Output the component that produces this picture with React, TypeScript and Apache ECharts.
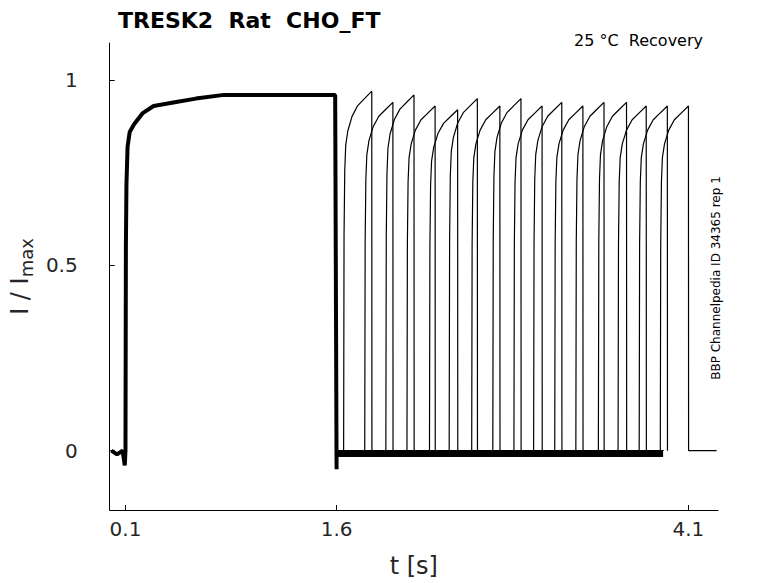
import { useEffect, useRef } from "react";
import * as echarts from "echarts";

// first (conditioning) pulse, shared by all sweeps
const firstPulseT = [0, 0.04, 0.08, 0.095, 0.1, 0.103, 0.107, 0.115, 0.13, 0.16, 0.22, 0.3, 0.45, 0.6, 0.8, 1.0, 1.2, 1.4, 1.59, 1.6];
const firstPulseI = [0, -0.01, 0.0, -0.04, 0.0, 0.55, 0.72, 0.82, 0.86, 0.88, 0.91, 0.93, 0.94, 0.95, 0.96, 0.96, 0.96, 0.96, 0.96, -0.05];

// recovery test pulses: onset time [s], plateau level
const rises = [1.65, 1.8, 1.95, 2.1, 2.26, 2.4, 2.56, 2.71, 2.86, 3.0, 3.15, 3.3, 3.46, 3.6, 3.75, 3.9];
const peaks = [0.97, 0.94, 0.96, 0.93, 0.92, 0.95, 0.93, 0.95, 0.93, 0.94, 0.93, 0.94, 0.94, 0.93, 0.93, 0.93];
const pulseLength = 0.2;
// shape of a test pulse: time after onset, fraction of plateau
const shapeDt = [0, 0.003, 0.008, 0.015, 0.03, 0.06, 0.1, 0.15, 0.2];
const shapeFrac = [0, 0.6, 0.78, 0.85, 0.89, 0.93, 0.96, 0.98, 1.0];
const sweepEnd = [3.92, 3.92, 3.92, 3.92, 3.92, 3.92, 3.92, 3.92, 3.92, 3.92, 3.92, 3.92, 3.92, 3.92, 3.95, 4.3];

const xTicks = [0.1, 1.6, 4.1];
const yTicks = [0, 0.5, 1];

export default function App() {
  const ref = useRef<HTMLDivElement>(null);

  useEffect(() => {
    if (!ref.current) return;
    document.body.style.margin = "0";
    const chart = echarts.init(ref.current, null, { renderer: "svg" });

    const first = firstPulseT.map((t, i) => [t, firstPulseI[i]]);
    const sweeps = rises.map((r, k) => {
      const pts: number[][] = [[1.6, 0], [r, 0]];
      shapeDt.forEach((d, j) => pts.push([r + d, peaks[k] * shapeFrac[j]]));
      pts.push([r + pulseLength + 0.001, 0]);
      pts.push([sweepEnd[k], 0]);
      return pts;
    });

    const series: any[] = [
      {
        type: "line",
        data: first,
        showSymbol: false,
        lineStyle: { color: "#000", width: 4 },
      },
      ...sweeps.map((d) => ({
        type: "line",
        data: d,
        showSymbol: false,
        lineStyle: { color: "#000", width: 1.2 },
      })),
      {
        type: "line",
        data: [[1.6, -0.01], [3.92, -0.01]],
        showSymbol: false,
        lineStyle: { color: "#000", width: 5 },
      },
    ];

    const txt = "#262626";
    chart.setOption({
      animation: false,
      grid: { left: 101, right: 60, top: 43, bottom: 71 },
      title: {
        text: "TRESK2  Rat  CHO_FT",
        left: 113,
        top: 4,
        textStyle: { fontFamily: "DejaVu Sans", fontSize: 22, fontWeight: "bold", color: "#000" },
      },
      graphic: [
        {
          type: "text",
          right: 75,
          top: 32,
          style: { text: "25 °C  Recovery", font: "16px DejaVu Sans", fill: "#000" },
        },
        {
          type: "text",
          x: 716,
          y: 278,
          rotation: Math.PI / 2,
          style: {
            text: "BBP Channelpedia ID 34365 rep 1",
            font: "12px DejaVu Sans",
            fill: "#000",
            align: "center",
            verticalAlign: "middle",
          },
        },
      ],
      xAxis: {
        type: "value",
        min: -0.012,
        max: 4.31,
        name: "t [s]",
        nameLocation: "middle",
        nameGap: 44,
        nameTextStyle: { fontFamily: "DejaVu Sans", fontSize: 24, color: txt },
        axisLine: { onZero: false, lineStyle: { color: "#000" } },
        axisTick: { inside: true, length: 5, customValues: xTicks, lineStyle: { color: "#000" } },
        axisLabel: { customValues: xTicks, fontFamily: "DejaVu Sans", fontSize: 20, color: txt, margin: 9 },
        splitLine: { show: false },
      },
      yAxis: {
        type: "value",
        min: -0.16,
        max: 1.1,
        name: "{a|I / I}{b|max}",
        nameLocation: "middle",
        nameGap: 68,
        nameTextStyle: {
          rich: {
            a: { fontFamily: "DejaVu Sans", fontSize: 24, color: txt },
            b: { fontFamily: "DejaVu Sans", fontSize: 18, color: txt, padding: [12, 0, 0, 0] },
          },
        },
        axisLine: { show: true, onZero: false, lineStyle: { color: "#000" } },
        axisTick: { show: true, inside: true, length: 5, customValues: yTicks, lineStyle: { color: "#000" } },
        axisLabel: { customValues: yTicks, fontFamily: "DejaVu Sans", fontSize: 20, color: txt, margin: 32 },
        splitLine: { show: false },
      },
      series,
    });

    return () => chart.dispose();
  }, []);

  return <div ref={ref} style={{ width: 778, height: 583 }} />;
}
